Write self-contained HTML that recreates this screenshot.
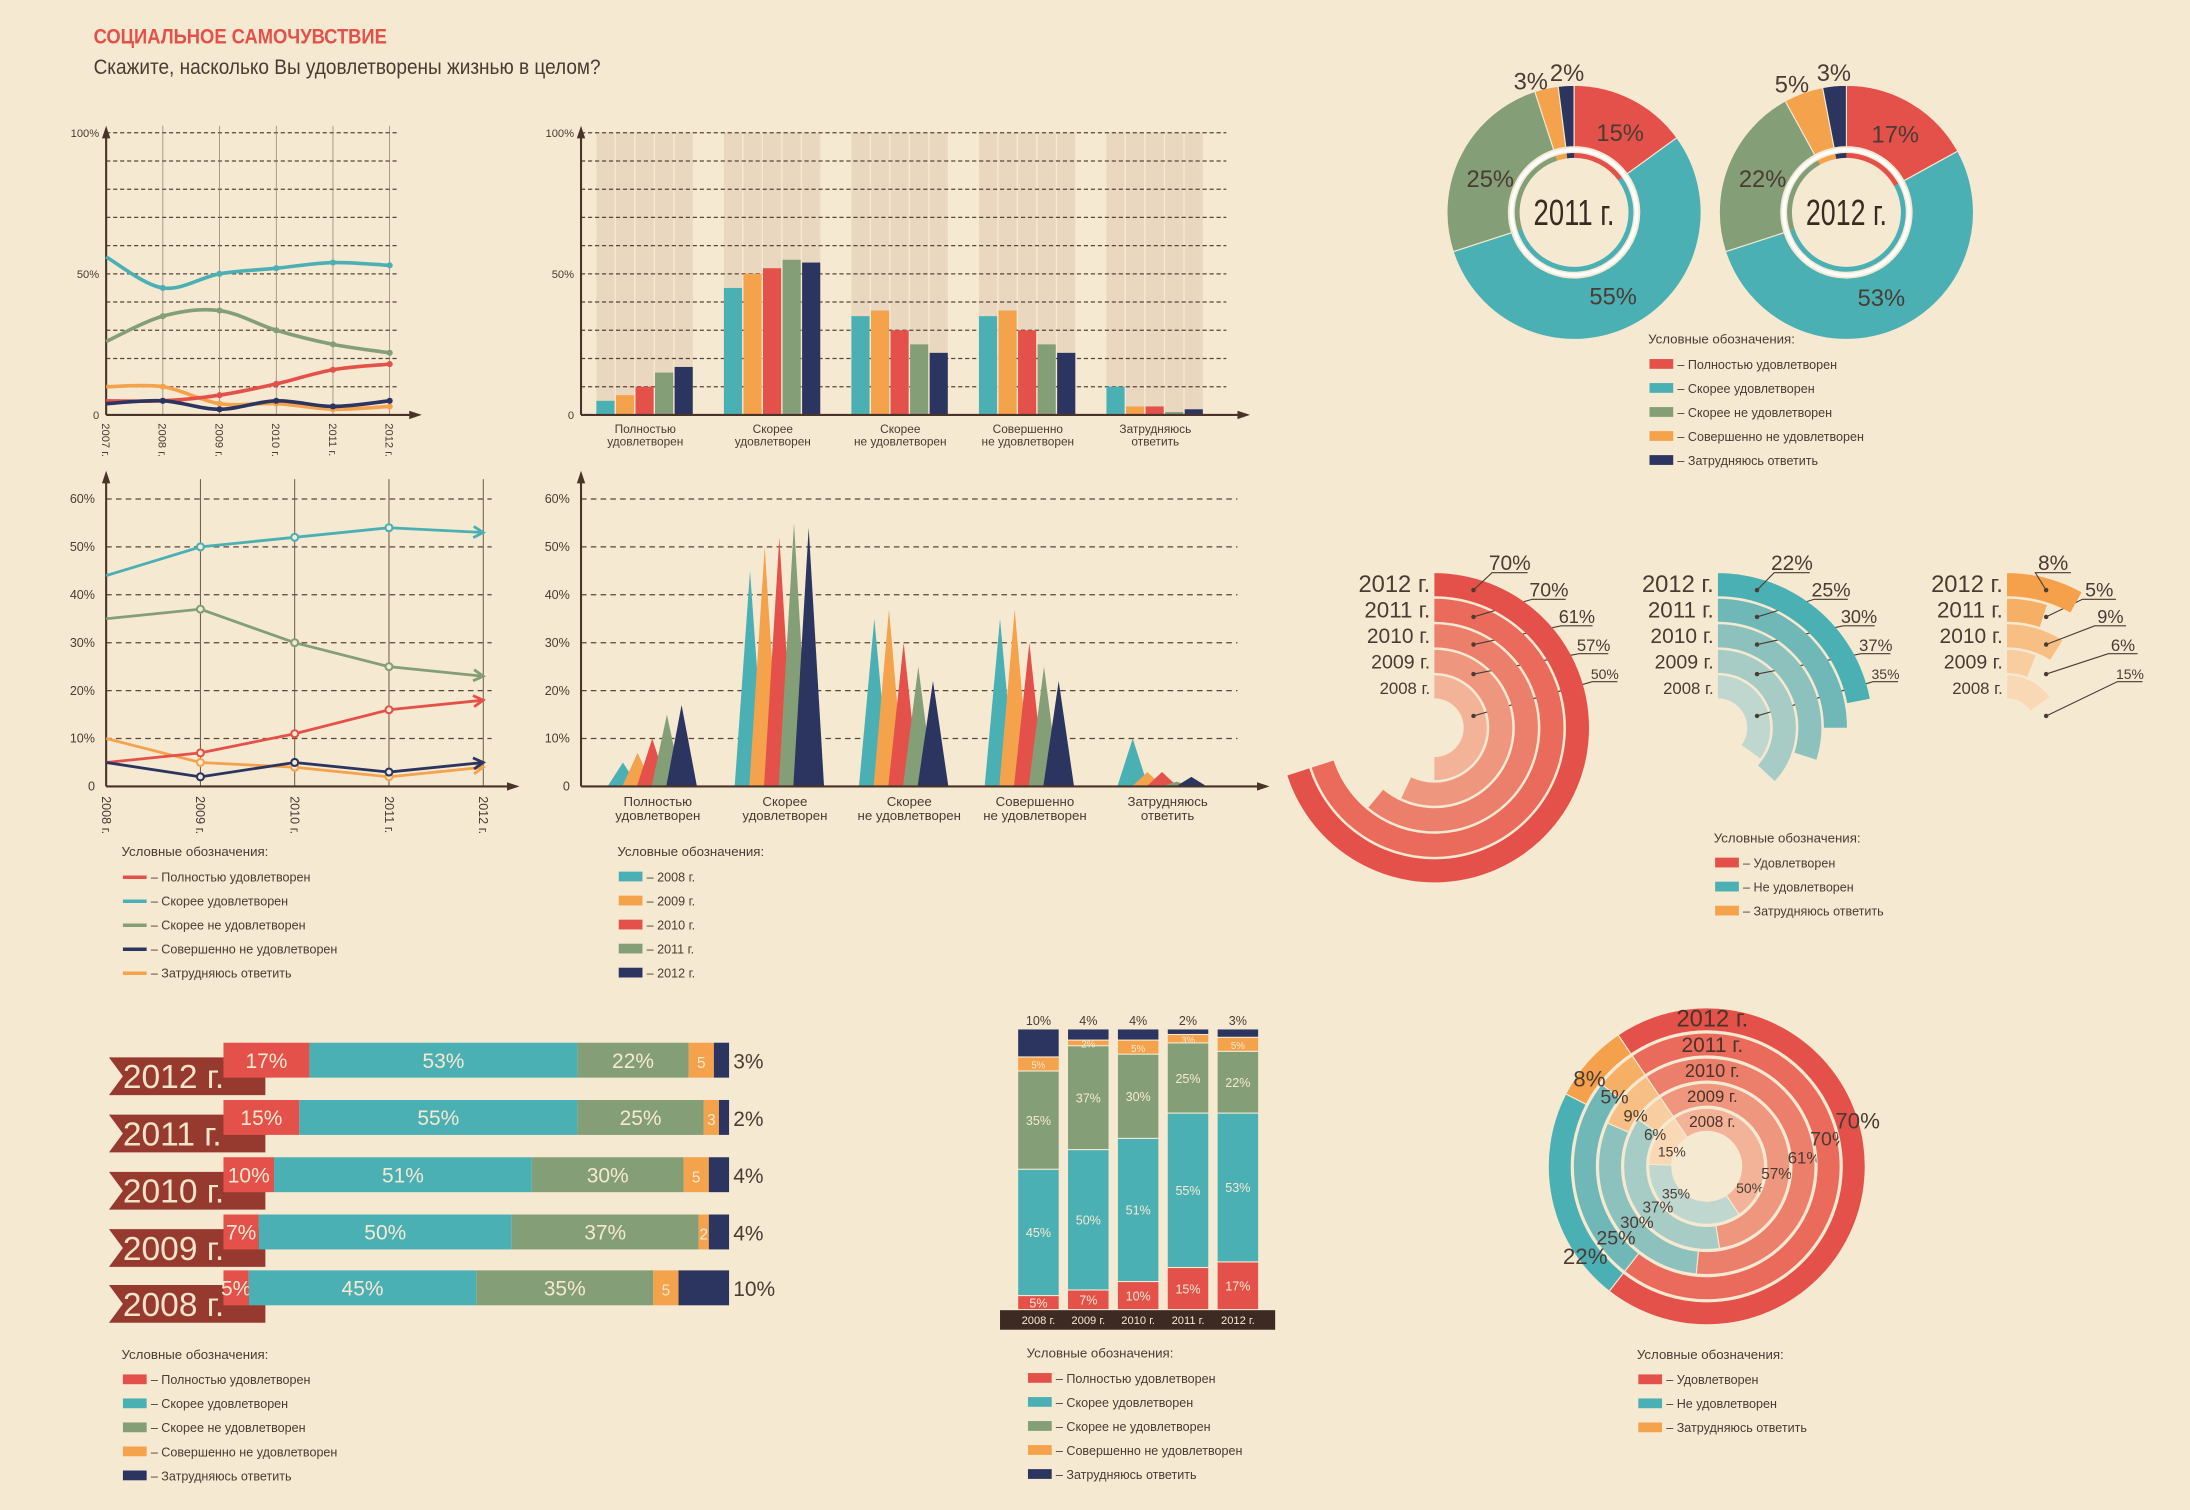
<!DOCTYPE html>
<html><head><meta charset="utf-8">
<style>
html,body{margin:0;padding:0;background:#f6e9d2;}
svg{display:block;}
text{font-family:"Liberation Sans Narrow","Liberation Sans",sans-serif;}
</style></head>
<body>
<svg id="root" xmlns="http://www.w3.org/2000/svg" width="2190" height="1510" viewBox="0 0 1568 1081">
<rect x="0" y="0" width="1568" height="1081" fill="#f6e9d2"/>
<text x="67" y="31" font-size="15" font-weight="bold" fill="#e4514a" textLength="210" lengthAdjust="spacingAndGlyphs">СОЦИАЛЬНОЕ САМОЧУВСТВИЕ</text>
<text x="67" y="53" font-size="15" fill="#4a3b33" textLength="363" lengthAdjust="spacingAndGlyphs">Скажите, насколько Вы удовлетворены жизнью в целом?</text>
</svg>
<script>
// ---------- DATA ----------
const years5 = ["2008 г.","2009 г.","2010 г.","2011 г.","2012 г."];
const years6 = ["2007 г.","2008 г.","2009 г.","2010 г.","2011 г.","2012 г."];
const cats = ["Полностью удовлетворен","Скорее удовлетворен","Скорее не удовлетворен","Совершенно не удовлетворен","Затрудняюсь ответить"];
const catLines = [["Полностью","удовлетворен"],["Скорее","удовлетворен"],["Скорее","не удовлетворен"],["Совершенно","не удовлетворен"],["Затрудняюсь","ответить"]];
// line chart 1 (2007-2012)
const l1Full = [5,5,7,11,16,18];
const l1Rather = [56,45,50,52,54,53];
const l1RatherNot = [26,35,37,30,25,22];
const l1Not = [4,5,2,5,3,5];
const l1Hard = [10,10,4,4,2,3];
// per year 2008..2012
const fullSat = [5,7,10,15,17];
const ratherSat = [45,50,51,55,53];
const ratherNot = [35,37,30,25,22];
const notSat = [5,2,5,3,5];
const hardAns = [10,4,4,2,3];
// grouped bars: per category, values per year
const barFull = [5,7,10,15,17];
const barRather = [45,50,52,55,54];
const barRatherNot = [35,37,30,25,22];
const barNot = [35,37,30,25,22];
const barHard = [10,3,3,1,2];
// line chart 2 (2008-2012)
const l2Full = [5,7,11,16,18];
const l2Rather = [44,50,52,54,53];
const l2RatherNot = [35,37,30,25,23];
const l2Not = [5,2,5,3,5];
const l2Hard = [10,5,4,2,4];
// donuts
const donut2011 = [15,55,25,3,2];
const donut2012 = [17,53,22,5,3];
// satisfied / not / hard (2008..2012)
const satisfied = [50,57,61,70,70];
const notSatisfied = [35,37,30,25,22];
const hard3 = [15,6,9,5,8];

// ---------- HELPERS ----------
const NS="http://www.w3.org/2000/svg";
const root=document.getElementById('root');
const C={red:"#e4514a",teal:"#4bb0b4",green:"#849e77",orange:"#f4a24c",navy:"#2c3560",text:"#4a3b33",axis:"#4a3328",bg:"#f6e9d2"};
const colors5=[C.red,C.teal,C.green,C.orange,C.navy];
const yearColors=[C.teal,C.orange,C.red,C.green,C.navy];
function mk(tag,attrs,parent){const e=document.createElementNS(NS,tag);for(const k in attrs)e.setAttribute(k,attrs[k]);(parent||root).appendChild(e);return e;}
function tx(x,y,s,size,fill,anchor,parent){const e=mk('text',{x:x,y:y,'font-size':size,fill:fill||C.text,'text-anchor':anchor||'start'},parent);e.textContent=s;return e;}
function pt(cx,cy,r,a){const t=a*Math.PI/180;return [cx+r*Math.sin(t),cy-r*Math.cos(t)];}
function sector(cx,cy,r0,r1,a0,a1){const L=(a1-a0)>180?1:0;const p1=pt(cx,cy,r1,a0),p2=pt(cx,cy,r1,a1),p3=pt(cx,cy,r0,a1),p4=pt(cx,cy,r0,a0);
 return `M${p1[0]},${p1[1]} A${r1},${r1} 0 ${L} 1 ${p2[0]},${p2[1]} L${p3[0]},${p3[1]} A${r0},${r0} 0 ${L} 0 ${p4[0]},${p4[1]} Z`;}
function arrowUp(x,y,g){return mk('path',{d:`M${x-3},${y+9} L${x},${y} L${x+3},${y+9} Z`,fill:C.axis},g);}
function arrowRight(x,y,g){return mk('path',{d:`M${x-9},${y-3} L${x},${y} L${x-9},${y+3} Z`,fill:C.axis},g);}
function smooth(pts){let d=`M${pts[0][0]},${pts[0][1]}`;for(let i=0;i<pts.length-1;i++){const p0=pts[Math.max(0,i-1)],p1=pts[i],p2=pts[i+1],p3=pts[Math.min(pts.length-1,i+2)];
 const c1=[p1[0]+(p2[0]-p0[0])/6,p1[1]+(p2[1]-p0[1])/6],c2=[p2[0]-(p3[0]-p1[0])/6,p2[1]-(p3[1]-p1[1])/6];d+=` C${c1[0]},${c1[1]} ${c2[0]},${c2[1]} ${p2[0]},${p2[1]}`;}return d;}
function legendBox(x,y,cols,labels,name,line){const g=mk('g',{});
 tx(x,y,"Условные обозначения:",9.5,C.text,'start',g);
 labels.forEach((l,i)=>{const yy=y+18+i*17.2;let sw;
  if(line){sw=mk('line',{x1:x+1,y1:yy-3,x2:x+18,y2:yy-3,stroke:cols[i],'stroke-width':2.5},g);}
  else{sw=mk('rect',{x:x+1,y:yy-7,width:17,height:7,fill:cols[i]},g);}
  
  const t=tx(x+21,yy,"– "+l,9,C.text,'start',g);});}

// ---------- CHART 1: smooth lines ----------
(function(){const g=mk('g',{});
 const xs=i=>76+i*40.6, y=v=>297-v*2.02;
 for(let v=10;v<=100;v+=10){const l=mk('line',{x1:76,y1:y(v),x2:285,y2:y(v),stroke:"#5a463a",'stroke-width':0.9,'stroke-dasharray':'3,2'},g);}
 years6.forEach((yr,i)=>{if(i>0){const l=mk('line',{x1:xs(i),y1:90,x2:xs(i),y2:297,stroke:"#8a7868",'stroke-width':0.5},g);}
  const t=tx(xs(i)-3,303,yr,8,C.text,'start',g);t.setAttribute('transform',`rotate(90 ${xs(i)-3} 303)`);});
 [["100%",100],["50%",50],["0",0]].forEach(a=>{const t=tx(71,y(a[1])+3,a[0],8,C.text,'end',g);});
 mk('line',{x1:76,y1:297,x2:76,y2:95,stroke:C.axis,'stroke-width':1.5},g);arrowUp(76,90,g);
 mk('line',{x1:76,y1:297,x2:295,y2:297,stroke:C.axis,'stroke-width':1.5},g);arrowRight(302,297,g);
 const series=[[l1Hard,C.orange,'line-hard'],[l1RatherNot,C.green,'line-rather-not'],[l1Rather,C.teal,'line-rather'],[l1Full,C.red,'line-full'],[l1Not,C.navy,'line-not']];
 series.forEach(s=>{const pts=s[0].map((v,i)=>[xs(i),y(v)]);const p=mk('path',{d:smooth(pts),fill:'none',stroke:s[1],'stroke-width':2.6},g);
  pts.forEach((q,i)=>{if(i>0){const c=mk('circle',{cx:q[0],cy:q[1],r:2.2,fill:s[1]},g);}});});
})();

// ---------- CHART 2: grouped bars ----------
(function(){const g=mk('g',{});
 const y=v=>297-v*2.02;const groups=[barFull,barRather,barRatherNot,barNot,barHard];
 groups.forEach((vals,gi)=>vals.forEach((v,i)=>{const x=427+gi*91.3+i*14;const b=mk('rect',{x:x,y:y(100),width:13,height:y(0)-y(100),fill:"#e9d8bf"},g);}));
 for(let v=10;v<=100;v+=10){const l=mk('line',{x1:416,y1:y(v),x2:878,y2:y(v),stroke:"#5a463a",'stroke-width':0.9,'stroke-dasharray':'3,2'},g);}
 groups.forEach((vals,gi)=>{vals.forEach((v,i)=>{const x=427+gi*91.3+i*14;const b=mk('rect',{x:x,y:y(v),width:13,height:y(0)-y(v),fill:yearColors[i]},g);});
  catLines[gi].forEach((l,k)=>{const t=tx(462+gi*91.3,310+k*9,l,8.5,C.text,'middle',g);});});
 [["100%",100],["50%",50],["0",0]].forEach(a=>{const t=tx(411,y(a[1])+3,a[0],8,C.text,'end',g);});
 mk('line',{x1:416,y1:297,x2:416,y2:95,stroke:C.axis,'stroke-width':1.5},g);arrowUp(416,90,g);
 mk('line',{x1:416,y1:297,x2:888,y2:297,stroke:C.axis,'stroke-width':1.5},g);arrowRight(895,297,g);
})();

// ---------- CHART 3: straight lines ----------
(function(){const g=mk('g',{});
 const xs=i=>76+i*67.5,y=v=>563-v*3.43;
 for(let v=10;v<=60;v+=10){const l=mk('line',{x1:76,y1:y(v),x2:352,y2:y(v),stroke:"#5a463a",'stroke-width':0.9,'stroke-dasharray':'4,3'},g);}
 years5.forEach((yr,i)=>{if(i>0){const l=mk('line',{x1:xs(i),y1:343,x2:xs(i),y2:563,stroke:"#6a5646",'stroke-width':0.7},g);}
  const t=tx(xs(i)-3,570,yr,9,C.text,'start',g);t.setAttribute('transform',`rotate(90 ${xs(i)-3} 570)`);});
 for(let v=0;v<=60;v+=10){const t=tx(68,y(v)+3,v===0?"0":v+"%",9,C.text,'end',g);}
 mk('line',{x1:76,y1:563,x2:76,y2:343,stroke:C.axis,'stroke-width':1.5},g);arrowUp(76,337,g);
 mk('line',{x1:76,y1:563,x2:365,y2:563,stroke:C.axis,'stroke-width':1.5},g);arrowRight(372,563,g);
 const series=[[l2Hard,C.orange,'line-hard'],[l2RatherNot,C.green,'line-rather-not'],[l2Rather,C.teal,'line-rather'],[l2Full,C.red,'line-full'],[l2Not,C.navy,'line-not']];
 series.forEach(s=>{const pts=s[0].map((v,i)=>[xs(i),y(v)]);const p=mk('polyline',{points:pts.map(q=>q.join(',')).join(' '),fill:'none',stroke:s[1],'stroke-width':2},g);
  const last=pts[pts.length-1],prev=pts[pts.length-2];const ang=Math.atan2(last[1]-prev[1],last[0]-prev[0])*180/Math.PI;
  const ah=mk('path',{d:`M${last[0]-7},${last[1]-4} L${last[0]},${last[1]} L${last[0]-7},${last[1]+4}`,fill:'none',stroke:s[1],'stroke-width':2,transform:`rotate(${ang} ${last[0]} ${last[1]})`},g);
  pts.forEach((q,i)=>{if(i>0&&i<pts.length-1){const c=mk('circle',{cx:q[0],cy:q[1],r:2.5,fill:C.bg,stroke:s[1],'stroke-width':1.5},g);}});});
})();
legendBox(87,613,[C.red,C.teal,C.green,C.navy,C.orange],["Полностью удовлетворен","Скорее удовлетворен","Скорее не удовлетворен","Совершенно не удовлетворен","Затрудняюсь ответить"],'legend-lines',true);

// ---------- CHART 4: spikes ----------
(function(){const g=mk('g',{});
 const y=v=>563-v*3.43;const groups=[barFull,barRather,barRatherNot,barNot,barHard];const centers=[471,562,651,741,836];
 for(let v=10;v<=60;v+=10){const l=mk('line',{x1:416,y1:y(v),x2:886,y2:y(v),stroke:"#5a463a",'stroke-width':0.9,'stroke-dasharray':'4,3'},g);}
 for(let v=0;v<=60;v+=10){const t=tx(408,y(v)+3,v===0?"0":v+"%",9,C.text,'end',g);}
 groups.forEach((vals,gi)=>{vals.forEach((v,i)=>{const x0=centers[gi]-36+i*10.5,w=22;const p=mk('path',{d:`M${x0},563 L${x0+w/2},${y(v)} L${x0+w},563 Z`,fill:yearColors[i]},g);});
  catLines[gi].forEach((l,k)=>{const t=tx(centers[gi],577+k*10,l,9.5,C.text,'middle',g);});});
 mk('line',{x1:416,y1:563,x2:416,y2:343,stroke:C.axis,'stroke-width':1.5},g);arrowUp(416,337,g);
 mk('line',{x1:416,y1:563,x2:902,y2:563,stroke:C.axis,'stroke-width':1.5},g);arrowRight(909,563,g);
})();
legendBox(442,613,yearColors,years5,'legend-years',false);

// ---------- DONUTS ----------
function donut(cx,cy,vals,label,labelPos,name){const g=mk('g',{});
 let a=0;vals.forEach((v,i)=>{const a1=a+v*3.6;const p=mk('path',{d:sector(cx,cy,47,91,a,a1),fill:colors5[i],stroke:'#f6e9d2','stroke-width':0.8},g);
  const ip=mk('path',{d:sector(cx,cy,39,42.5,a,a1),fill:colors5[i]},g);a=a1;
  const t=tx(labelPos[i][0],labelPos[i][1],v+"%",17,C.text,'middle',g);});
 const c=mk('circle',{cx:cx,cy:cy,r:44.8,fill:'none',stroke:'#fff','stroke-width':2.5},g);
 const t=tx(cx,cy+9,label,26,"#3a2a22",'middle',g);t.setAttribute('textLength','58');t.setAttribute('lengthAdjust','spacingAndGlyphs');}
donut(1127,152,donut2011,"2011 г.",[[1160,101],[1155,218],[1067,134],[1096,64],[1122,58]],'donut-2011');
donut(1322,152,donut2012,"2012 г.",[[1357,102],[1347,219],[1262,134],[1283,66],[1313,58]],'donut-2012');
legendBox(1180,246,colors5,["Полностью удовлетворен","Скорее удовлетворен","Скорее не удовлетворен","Совершенно не удовлетворен","Затрудняюсь ответить"],'legend-donuts',false);

// ---------- RADIAL CHARTS ----------
const redShades=["#f2b398","#ef967f","#ec7f6c","#ea6b5c","#e4514a"];
const tealShades=["#c0d7cf","#a7ccc6","#8dc1bd","#70b8b7","#4bb0b4"];
const orangeShades=["#f9d9b5","#f8cd9f","#f7bf84","#f6b066","#f5a04a"];
function radial(cx,cy,vals,shades,labelPos,name){const g=mk('g',{});
 const sizes=[12,14,15,16,17];
 vals.forEach((v,i)=>{const r0=21+i*18.3,r1=r0+16.5;const p=mk('path',{d:sector(cx,cy,r0,r1,0,v*3.6),fill:shades[i]},g);
  const yt=cy-r0-3;const t=tx(cx-3,yt,years5[i],sizes[i],C.text,'end',g);
  const rm=(r0+r1)/2,dx=28,dy=Math.sqrt(Math.max(rm*rm-dx*dx,0));const dot=[cx+dx,cy-dy];
  const lp=labelPos[i];const lw=sizes[i]*1.5;
  const ln=mk('polyline',{points:`${dot[0]},${dot[1]} ${lp[0]-lw/2},${lp[1]+2} ${lp[0]+lw/2},${lp[1]+2}`,fill:'none',stroke:C.text,'stroke-width':0.8},g);
  const c=mk('circle',{cx:dot[0],cy:dot[1],r:1.6,fill:C.text},g);
  const lt=tx(lp[0],lp[1],v+"%",sizes[i]-2,C.text,'middle',g);});}
radial(1027,521,satisfied,redShades,[[1149,486],[1141,466],[1129,446],[1109,427],[1081,408]],'radial-satisfied');
radial(1230,521,notSatisfied,tealShades,[[1350,486],[1343,466],[1331,446],[1311,427],[1283,408]],'radial-not-satisfied');
radial(1437,521,hard3,orangeShades,[[1525,486],[1520,466],[1511,446],[1503,427],[1470,408]],'radial-hard');
legendBox(1227,603,[C.red,C.teal,C.orange],["Удовлетворен","Не удовлетворен","Затрудняюсь ответить"],'legend-radial',false);

// ---------- HORIZONTAL STACKED ----------
(function(){const g=mk('g',{});
 const series=[fullSat,ratherSat,ratherNot,notSat,hardAns];const rowY=[922,882,841,800,759];const sx=v=>160+v*3.62;
 years5.forEach((yr,yi)=>{const yc=rowY[yi];let cum=0;
  const rb=mk('path',{d:`M78,${yc-2} L190,${yc-2} L190,${yc+25} L78,${yc+25} L88,${yc+11.5} Z`,fill:"#963a30"},g);
  const rt=tx(88,yc+20,yr,24,"#f3e3c8",'start',g);
  series.forEach((s,si)=>{const v=s[yi];const r=mk('rect',{x:sx(cum),y:yc-12.5,width:sx(cum+v)-sx(cum),height:25,fill:colors5[si]},g);
   if(si<4){const lab=si===3?String(v):v+"%";const t=tx((sx(cum)+sx(cum+v))/2,yc+5.5,lab,si===3?11:15,"#f6e9d2",'middle',g);}
   cum+=v;});
  const t=tx(sx(100)+3,yc+6,hardAns[yi]+"%",15,C.text,'start',g);});
})();
legendBox(87,973,colors5,["Полностью удовлетворен","Скорее удовлетворен","Скорее не удовлетворен","Совершенно не удовлетворен","Затрудняюсь ответить"],'legend-horizontal',false);

// ---------- VERTICAL STACKED ----------
(function(){const g=mk('g',{});
 const series=[fullSat,ratherSat,ratherNot,notSat,hardAns];const y=v=>938-v*2.01;
 const band=mk('rect',{x:716,y:938,width:197,height:14,fill:"#3d2a22"},g);
 years5.forEach((yr,yi)=>{const x=729+yi*35.7;let cum=0;
  series.forEach((s,si)=>{const v=s[yi];const r=mk('rect',{x:x,y:y(cum+v),width:29,height:y(cum)-y(cum+v)-0.8,fill:colors5[si]},g);
   if(si<4){const t=tx(x+14.5,(y(cum)+y(cum+v))/2+3,v+"%",si===3?7:9,"#f6e9d2",'middle',g);}cum+=v;});
  const t=tx(x+14.5,734,hardAns[yi]+"%",9,C.text,'middle',g);
  const yt=tx(x+14.5,948,yr,8,"#f6e9d2",'middle',g);});
})();
legendBox(735,972,colors5,["Полностью удовлетворен","Скорее удовлетворен","Скорее не удовлетворен","Совершенно не удовлетворен","Затрудняюсь ответить"],'legend-vertical',false);

// ---------- CONCENTRIC DONUT ----------
(function(){const g=mk('g',{});
 const cx=1222,cy=835,start=-34;const sets=[[satisfied,redShades],[notSatisfied,tealShades],[hard3,orangeShades]];
 const lp=[[[1253,854],[1272,844],[1292,833],[1310,820],[1330,808]],[[1200,858],[1187,868],[1172,879],[1157,891],[1135,905]],[[1197,828],[1185,816],[1171,803],[1156,790],[1138,778]]];
 const sz=[10,11,12,14,16];
 years5.forEach((yr,yi)=>{const r0=25+yi*18,r1=r0+16.5;let a=start;
  sets.forEach((s,si)=>{const v=s[0][yi];const p=mk('path',{d:sector(cx,cy,r0,r1,a,a+v*3.6),fill:s[1][yi],stroke:'#f6e9d2','stroke-width':0.8},g);a+=v*3.6;
   const t=tx(lp[si][yi][0],lp[si][yi][1],v+"%",sz[yi],C.text,'middle',g);});
  const t=tx(cx+4,cy-r0-3,yr,sz[yi]+1,"#4a3328",'middle',g);});
})();
legendBox(1172,973,[C.red,C.teal,C.orange],["Удовлетворен","Не удовлетворен","Затрудняюсь ответить"],'legend-concentric',false);
</script>
</body></html>
